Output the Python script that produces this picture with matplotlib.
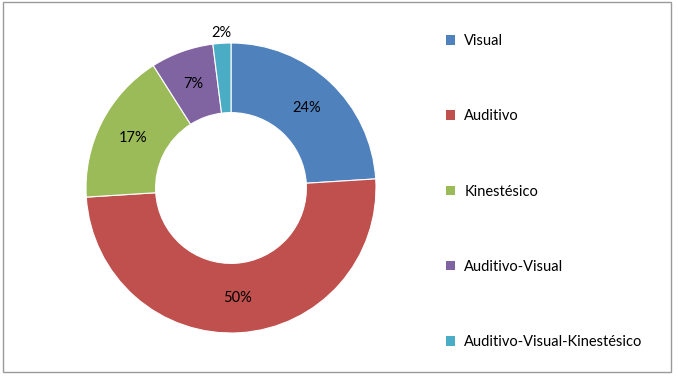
import matplotlib
matplotlib.use("Agg")
import matplotlib.pyplot as plt
import numpy as np
from matplotlib.patches import Rectangle, Patch

labels = ["Visual", "Auditivo", "Kinestésico", "Auditivo-Visual", "Auditivo-Visual-Kinestésico"]
values = [24, 50, 17, 7, 2]
colors = ["#4F81BD", "#C0504D", "#9BBB59", "#8064A2", "#4BACC6"]

plt.rcParams["font.family"] = ["Lato", "DejaVu Sans"]

W, H = 678, 379
fig = plt.figure(figsize=(W / 100, H / 100), dpi=100)

# chart frame
fig.patches.append(Rectangle((3 / W, 1 - 372 / H), 668 / W, 370 / H, transform=fig.transFigure,
                             fill=False, edgecolor="#9a9a9a", linewidth=1.0))

cx, cy, r = 231, 188, 145
ax = fig.add_axes([(cx - r) / W, (H - cy - r) / H, 2 * r / W, 2 * r / H])

wedges, texts, autotexts = ax.pie(
    values, colors=colors, startangle=90, counterclock=False,
    wedgeprops=dict(width=0.48, edgecolor="white", linewidth=0.8),
    autopct="%d%%", pctdistance=0.76, textprops=dict(fontsize=10.5, color="black"),
)

# small slice label sits outside the ring
for w, t, v in zip(wedges, autotexts, values):
    if v < 5:
        ang = np.deg2rad((w.theta1 + w.theta2) / 2)
        t.set_position((1.07 * np.cos(ang), 1.07 * np.sin(ang)))

ax.set_xlim(-1, 1)
ax.set_ylim(-1, 1)
ax.set_aspect("equal")

handles = [Patch(facecolor=c, edgecolor="none") for c in colors]
fig.legend(handles, labels, loc="upper left", bbox_to_anchor=(446 / W, 1 - 34 / H),
           frameon=False, fontsize=10.5, handlelength=0.65, handleheight=0.65,
           handletextpad=0.6, labelspacing=4.2, borderpad=0, borderaxespad=0)

plt.savefig("out.png", dpi=100)
